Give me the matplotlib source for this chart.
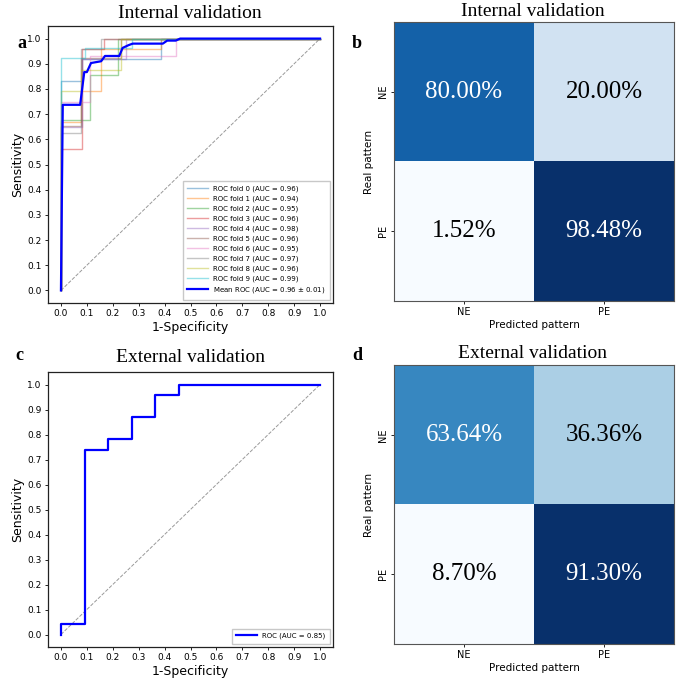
import matplotlib
matplotlib.use("Agg")
import matplotlib.pyplot as plt
import numpy as np

# ---------------- data ----------------
fold_names = [f"ROC fold {i}" for i in range(10)]
fold_aucs = [0.96, 0.94, 0.95, 0.96, 0.98, 0.96, 0.95, 0.97, 0.96, 0.99]
fold_fpr = [
    [0, 0, 0.083, 0.083, 0.385, 0.385, 1.0],
    [0, 0, 0.077, 0.077, 0.154, 0.154, 0.385, 0.385, 1.0],
    [0, 0, 0.111, 0.111, 0.222, 0.222, 1.0],
    [0, 0, 0.083, 0.083, 0.167, 0.167, 1.0],
    [0, 0, 0.083, 0.083, 0.25, 0.25, 1.0],
    [0, 0, 0.077, 0.077, 0.231, 0.231, 1.0],
    [0, 0, 0.111, 0.111, 0.444, 0.444, 1.0],
    [0, 0, 0.077, 0.077, 0.154, 0.154, 1.0],
    [0, 0, 0.077, 0.077, 0.231, 0.231, 1.0],
    [0, 0, 0.091, 0.091, 0.273, 0.273, 1.0],
]
fold_tpr = [
    [0, 0.833, 0.833, 0.917, 0.917, 1.0, 1.0],
    [0, 0.667, 0.667, 0.792, 0.792, 0.958, 0.958, 1.0, 1.0],
    [0, 0.677, 0.677, 0.857, 0.857, 1.0, 1.0],
    [0, 0.56, 0.56, 0.96, 0.96, 1.0, 1.0],
    [0, 0.65, 0.65, 0.917, 0.917, 1.0, 1.0],
    [0, 0.654, 0.654, 0.923, 0.923, 1.0, 1.0],
    [0, 0.75, 0.75, 0.929, 0.929, 1.0, 1.0],
    [0, 0.625, 0.625, 0.958, 0.958, 1.0, 1.0],
    [0, 0.792, 0.792, 0.875, 0.875, 1.0, 1.0],
    [0, 0.923, 0.923, 0.962, 0.962, 1.0, 1.0],
]
mean_fpr = [0.0, 0.007, 0.074, 0.09, 0.10, 0.116, 0.155, 0.17, 0.225, 0.238,
            0.261, 0.277, 0.393, 0.41, 0.443, 0.46, 1.0]
mean_tpr = [0.0, 0.737, 0.737, 0.867, 0.867, 0.903, 0.91, 0.931, 0.931, 0.963,
            0.974, 0.98, 0.98, 0.992, 0.992, 1.0, 1.0]
mean_label = "Mean ROC (AUC = 0.96 $\\pm$ 0.01)"

ext_fpr = [0, 0, 0.091, 0.091, 0.182, 0.182, 0.273, 0.273, 0.364, 0.364, 0.455, 0.455, 1.0]
ext_tpr = [0, 0.043, 0.043, 0.739, 0.739, 0.783, 0.783, 0.870, 0.870, 0.957, 0.957, 1.0, 1.0]
ext_label = "ROC (AUC = 0.85)"

classes = ["NE", "PE"]
cm_internal = [[80.00, 20.00], [1.52, 98.48]]
cm_external = [[63.64, 36.36], [8.70, 91.30]]

# ---------------- figure ----------------
W, H = 676, 680
fig = plt.figure(figsize=(W / 100, H / 100), dpi=100)


def rect(l, t, r, b):
    return [l / W, 1 - b / H, (r - l) / W, (b - t) / H]


serif = ["Liberation Serif", "DejaVu Serif"]
colors = plt.rcParams["axes.prop_cycle"].by_key()["color"]


def roc_axes(box):
    ax = fig.add_axes(rect(*box))
    ax.plot([0, 1], [0, 1], linestyle="--", lw=0.7, color="gray", alpha=0.8)
    ax.set_xlim(-0.05, 1.05)
    ax.set_ylim(-0.05, 1.05)
    ticks = np.round(np.arange(0, 1.01, 0.1), 1)
    ax.set_xticks(ticks)
    ax.set_yticks(ticks)
    ax.tick_params(labelsize=6.5, length=2.5, width=0.6, pad=2)
    ax.set_xlabel("1-Specificity", fontsize=9, labelpad=2)
    ax.set_ylabel("Sensitivity", fontsize=9, labelpad=2)
    for s in ax.spines.values():
        s.set_linewidth(0.9)
        s.set_color("#222222")
    return ax


# panel a
ax_a = roc_axes((48, 26, 333, 303))
for i in range(10):
    ax_a.plot(fold_fpr[i], fold_tpr[i], lw=1, alpha=0.45, color=colors[i],
              label=f"{fold_names[i]} (AUC = {fold_aucs[i]:.2f})")
ax_a.plot(mean_fpr, mean_tpr, color="b", lw=1.6, label=mean_label)
ax_a.legend(loc="lower right", fontsize=5, handlelength=3.0, labelspacing=0.5,
            borderpad=0.6, fancybox=False, edgecolor="#bbbbbb")

# panel c
ax_c = roc_axes((48, 372, 333, 647))
ax_c.plot(ext_fpr, ext_tpr, color="b", lw=1.6, label=ext_label)
ax_c.legend(loc="lower right", fontsize=5, handlelength=3.0, borderpad=0.6,
            fancybox=False, edgecolor="#bbbbbb")


def cm_axes(box, cm):
    ax = fig.add_axes(rect(*box))
    arr = np.array(cm)
    ax.imshow(arr, cmap="Blues", interpolation="nearest", aspect="auto")
    thresh = (arr.max() + arr.min()) / 2
    for i in range(2):
        for j in range(2):
            ax.text(j, i, f"{arr[i, j]:.2f}%", ha="center", va="center",
                    fontsize=18, family=serif,
                    color="white" if arr[i, j] > thresh else "black")
    ax.set_xticks([0, 1])
    ax.set_yticks([0, 1])
    ax.set_xticklabels(classes)
    ax.set_yticklabels(classes, rotation=90, va="center")
    ax.tick_params(labelsize=7, length=2.5, width=0.6, pad=2)
    ax.set_xlabel("Predicted pattern", fontsize=7.5, labelpad=2)
    ax.set_ylabel("Real pattern", fontsize=7.5, labelpad=3)
    for s in ax.spines.values():
        s.set_linewidth(0.8)
        s.set_color("#555555")
    return ax


cm_axes((394, 22, 674, 301), cm_internal)
cm_axes((394, 365, 674, 644), cm_external)

# titles
fig.text(190 / W, 1 - 14 / H, "Internal validation", ha="center", va="center",
         fontsize=14, family=serif)
fig.text(533 / W, 1 - 11 / H, "Internal validation", ha="center", va="center",
         fontsize=14, family=serif)
fig.text(190 / W, 1 - 357 / H, "External validation", ha="center", va="center",
         fontsize=14, family=serif)
fig.text(533 / W, 1 - 354 / H, "External validation", ha="center", va="center",
         fontsize=14, family=serif)

# panel letters
for x, y, s in [(22, 44, "a"), (357, 44, "b"), (19, 355, "c"), (357, 356, "d")]:
    fig.text(x / W, 1 - y / H, s, ha="center", va="center", fontsize=13,
             fontweight="bold", family=serif)

fig.savefig("out.png", dpi=100)
